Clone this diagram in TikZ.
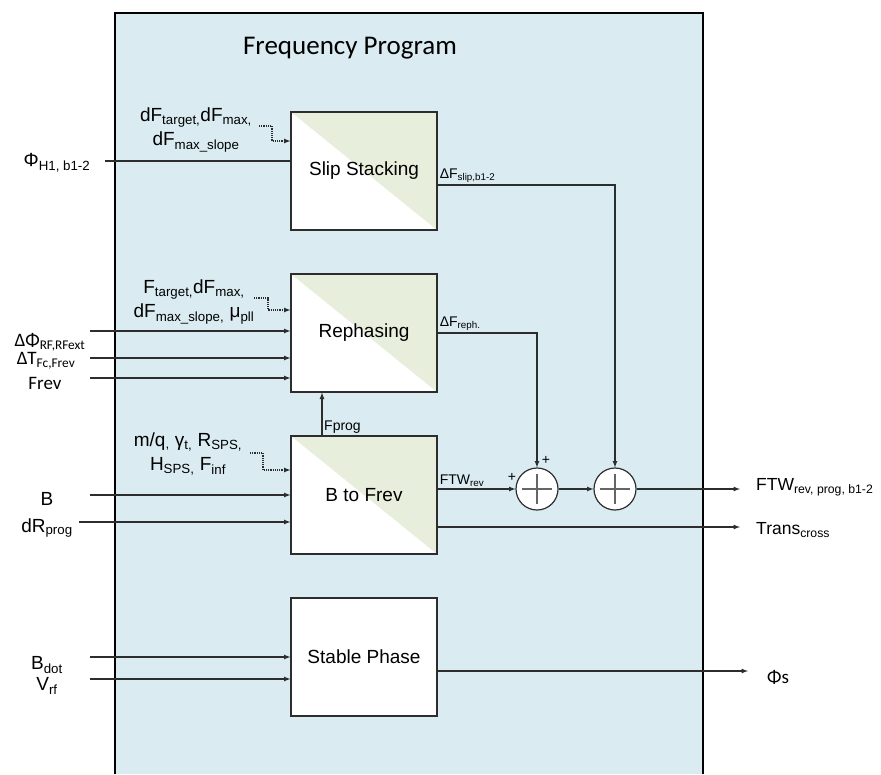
\documentclass[tikz,border=0pt]{standalone}
\usepackage{fontspec}
\setmainfont{Liberation Sans}
\newfontfamily\calfont{Carlito}
\usetikzlibrary{arrows}
\usetikzlibrary{calc}
\definecolor{framebg}{RGB}{218,236,242}
\definecolor{trigreen}{RGB}{232,238,220}
\definecolor{wire}{RGB}{45,45,45}
\tikzset{box/.style={rectangle,draw=wire,fill=white,line width=1.2pt,minimum width=146pt,minimum height=118pt,inner sep=0pt,font=\fontsize{19}{22}\selectfont}}
\tikzset{block/.style={box,path picture={\fill[trigreen] (path picture bounding box.north west) -- (path picture bounding box.north east) -- (path picture bounding box.south east) -- cycle;}}}
\tikzset{sum/.style={circle,draw=wire,fill=white,line width=1.2pt,minimum size=42pt,inner sep=0pt,path picture={
    \draw[black!60,line width=1.2pt] ([xshift=-15pt]path picture bounding box.center) -- ([xshift=15pt]path picture bounding box.center);
    \draw[black!60,line width=1.2pt] ([yshift=-15pt]path picture bounding box.center) -- ([yshift=15pt]path picture bounding box.center);}}}
\tikzset{line/.style={wire,>=latex,line width=1.2pt}}
\tikzset{dotline/.style={line,densely dotted}}
\tikzset{lab/.style={align=center,inner sep=0pt,font=\fontsize{19}{24}\selectfont}}
\tikzset{outlab/.style={lab,anchor=west,font=\fontsize{17.5}{22}\selectfont}}
\tikzset{callab/.style={lab,font=\calfont\fontsize{19}{22}\selectfont}}
\tikzset{small/.style={inner sep=2pt,font=\fontsize{14}{16}\selectfont}}
\tikzset{title/.style={font=\calfont\fontsize{27}{32}\selectfont}}

\begin{document}
\begin{tikzpicture}[x=1pt,y=-1pt]
  \useasboundingbox (0,0) rectangle (881,774);
  % Frame
  \fill[framebg] (115,13) rectangle (703,774);
  \draw[black,line width=1.3pt] (115,774) -- (115,13) -- (703,13) -- (703,774);
  \node[title] (title) at (350,48) {Frequency Program};

  % Blocks
  \node[block] (slip) at (364,171) {Slip Stacking};
  \node[block] (reph) at (364,333) {Rephasing};
  \node[block] (bfrev) at (364,495) {B to Frev};
  \node[box] (stable) at (364,657) {Stable Phase};

  % Sums
  \node[sum] (sumA) at (537,489) {};
  \node[sum] (sumB) at (615,489) {};
  \node[small] (plusA) at (546,460) {+};
  \node[small] (plusB) at (512,477) {+};

  % Slip Stacking inputs
  \node[lab] (slipset) at (196,130) {dF\textsubscript{target,}dF\textsubscript{max,}\\dF\textsubscript{max\_slope}};
  \coordinate (slipdot) at (259,126);
  \draw[dotline,->] (slipdot) -- ++(13,0) |- ([yshift=30pt]slip.west);
  \node[lab] (phih) at (57,163) {Φ\textsubscript{H1, b1-2}};
  \coordinate (phiin) at (105,161);
  \draw[line] (phiin) -- (phiin -| slip.west);

  % Rephasing inputs
  \node[lab] (rephset) at (194,302) {F\textsubscript{target,}dF\textsubscript{max,}\\dF\textsubscript{max\_slope,} μ\textsubscript{pll}};
  \coordinate (rephdot) at (254,298);
  \draw[dotline,->] (rephdot) -- ++(14,0) |- ([yshift=23pt]reph.west);
  \foreach \y/\n in {331/dphi,358/dt,378/frev}
  {
    \coordinate (\n) at (90,\y);
    \draw[line,->] (\n) -- (\n -| reph.west);
  }
  \node[callab] (dphilab) at (50,342) {ΔΦ\textsubscript{RF,RFext}};
  \node[callab] (dtlab) at (46,361) {ΔT\textsubscript{Fc,Frev}};
  \node[callab] (frevlab) at (45,383) {Frev};

  % B to Frev inputs
  \node[lab] (bset) at (188,454) {m/q\textsubscript{,} γ\textsubscript{t,} R\textsubscript{SPS,}\\H\textsubscript{SPS,} F\textsubscript{inf}};
  \coordinate (bdot) at (250,453);
  \draw[dotline,->] (bdot) -- ++(13,0) |- ([yshift=25pt]bfrev.west);
  \coordinate (bin) at (90,495);
  \coordinate (drin) at (79,522);
  \draw[line,->] (bin) -- (bin -| bfrev.west);
  \draw[line,->] (drin) -- (drin -| bfrev.west);
  \node[lab] (blab) at (47,499) {B};
  \node[lab] (drlab) at (47,528) {dR\textsubscript{prog}};

  % Fprog
  \draw[line,->] ([xshift=-42pt]bfrev.north) -- ([xshift=-42pt]reph.south);
  \node[small,anchor=south west] (fproglab) at ([xshift=-42pt]bfrev.north) {Fprog};

  % Stable Phase inputs
  \coordinate (bdotin) at (90,657);
  \coordinate (vrfin) at (90,679);
  \draw[line,->] (bdotin) -- (bdotin -| stable.west);
  \draw[line,->] (vrfin) -- (vrfin -| stable.west);
  \node[lab] (bdotlab) at (47,665) {B\textsubscript{dot}};
  \node[lab] (vrflab) at (47,686) {V\textsubscript{rf}};

  % Corrections
  \draw[line,->] ([yshift=-14pt]slip.east) -| (sumB.north);
  \node[small,anchor=south west] (sliplab) at ([yshift=-14pt]slip.east) {ΔF\textsubscript{slip,b1-2}};
  \draw[line,->] (reph.east) -| (sumA.north);
  \node[small,anchor=south west] (rephlab) at (reph.east) {ΔF\textsubscript{reph.}};
  \draw[line,->] ([yshift=6pt]bfrev.east) -- (sumA.west);
  \node[small,anchor=south west] (ftwlab) at ([yshift=6pt]bfrev.east) {FTW\textsubscript{rev}};
  \draw[line,->] (sumA.east) -- (sumB.west);

  % Outputs
  \coordinate (ftwout) at (740,489);
  \coordinate (transout) at (740,527);
  \coordinate (phiout) at (748,671);
  \draw[line,->] (sumB.east) -- (ftwout);
  \draw[line,->] ([yshift=-32pt]bfrev.east) -- (transout);
  \draw[line,->] ([yshift=-14pt]stable.east) -- (phiout);
  \node[outlab] (ftwoutlab) at (756,487) {FTW\textsubscript{rev, prog, b1-2}};
  \node[outlab] (transoutlab) at (756,530) {Trans\textsubscript{cross}};
  \node[callab,anchor=west] (phioutlab) at (767,677) {Φs};
\end{tikzpicture}
\end{document}
